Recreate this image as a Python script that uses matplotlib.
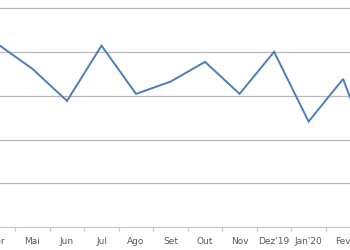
import matplotlib.pyplot as plt

meses = ["Abr", "Mai", "Jun", "Jul", "Ago", "Set", "Out", "Nov", "Dez'19", "Jan'20", "Fev", "Mar"]
valores = [4.17, 3.61, 2.88, 4.14, 3.04, 3.32, 3.77, 3.04, 4.00, 2.41, 3.38, 1.30]

fig = plt.figure(figsize=(3.5, 2.5), dpi=100)
ax = fig.add_axes([0, 0, 1, 1])

x = list(range(len(meses)))
ax.plot(x, valores, color="#4a7ebb", linewidth=1.4, solid_joinstyle="miter")

# gridlines
ax.set_yticks([1, 2, 3, 4, 5])
ax.yaxis.grid(True, color="#b9b9b9", linewidth=0.9)
ax.tick_params(axis="y", left=False, labelleft=False)
ax.set_axisbelow(True)

for s in ["top", "right", "left"]:
    ax.spines[s].set_visible(False)
ax.spines["bottom"].set_position(("data", 0))
ax.spines["bottom"].set_color("#c8c8c8")
ax.spines["bottom"].set_linewidth(0.9)

ax.set_xticks(x)
ax.set_xticklabels(meses, fontsize=6.5, color="#595959")
ax.tick_params(axis="x", length=0, pad=7)
ax.set_xticks([i + 0.5 for i in range(-1, len(meses))], minor=True)
ax.tick_params(axis="x", which="minor", length=3, color="#c8c8c8", width=0.9)

ax.set_xlim(0.058, 10.20)
ax.set_ylim(-0.518, 5.18)

# first label sits partly outside the view, draw it by hand
ax.annotate(meses[0], xy=(x[0], 0), xytext=(0, -7), textcoords="offset points",
            ha="center", va="top", fontsize=6.5, color="#595959", annotation_clip=False)

fig.savefig("out.png", dpi=100)
